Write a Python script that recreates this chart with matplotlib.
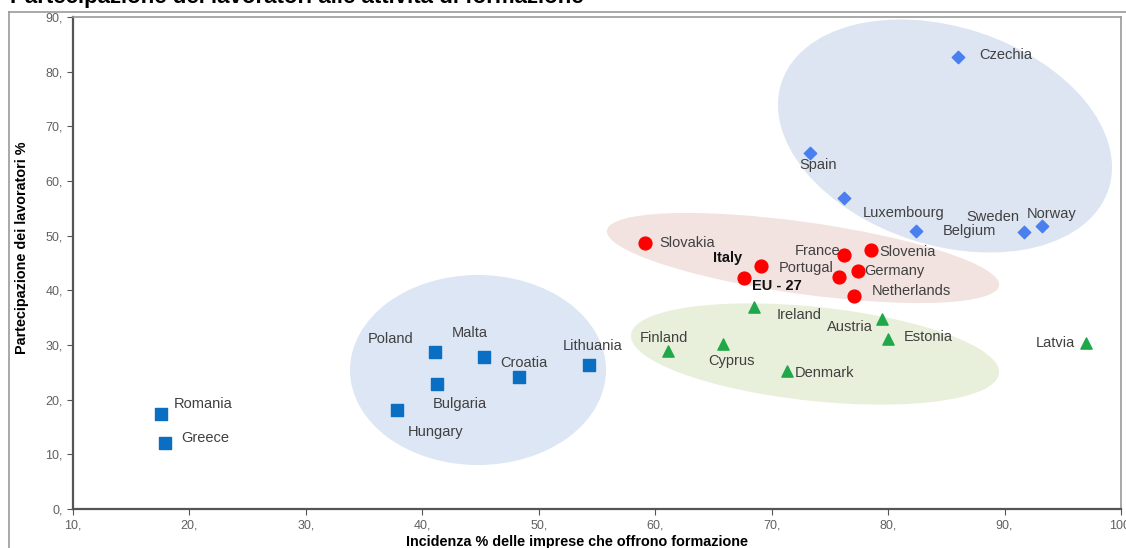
import matplotlib
matplotlib.use("Agg")
import matplotlib.pyplot as plt
from matplotlib.patches import Ellipse
from matplotlib.lines import Line2D
from matplotlib.transforms import Affine2D
from matplotlib.ticker import FuncFormatter

plt.rcParams['font.family'] = ['Liberation Sans', 'DejaVu Sans']

# ---------------------------
# data (x = incidenza imprese, y = partecipazione lavoratori)
# ---------------------------
sq_names = ["Romania", "Greece", "Poland", "Malta", "Bulgaria", "Hungary", "Croatia", "Lithuania"]
sq_x = [17.6, 17.9, 41.1, 45.3, 41.3, 37.8, 48.3, 54.3]
sq_y = [17.4, 12.1, 28.7, 27.8, 22.9, 18.1, 24.1, 26.3]

dia_names = ["Czechia", "Spain", "Luxembourg", "Belgium", "Sweden", "Norway"]
dia_x = [86.0, 73.3, 76.2, 82.4, 91.7, 93.2]
dia_y = [82.7, 65.1, 56.9, 50.9, 50.7, 51.8]

dot_names = ["Slovakia", "Italy", "EU - 27", "France", "Slovenia", "Portugal", "Germany", "Netherlands"]
dot_x = [59.1, 69.1, 67.6, 76.2, 78.5, 75.8, 77.4, 77.1]
dot_y = [48.7, 44.5, 42.3, 46.5, 47.4, 42.4, 43.5, 39.0]

tri_names = ["Ireland", "Austria", "Estonia", "Finland", "Cyprus", "Denmark", "Latvia"]
tri_x = [68.5, 79.5, 80.0, 61.1, 65.8, 71.3, 97.0]
tri_y = [36.9, 34.8, 31.1, 28.9, 30.2, 25.2, 30.4]

# label offsets in pixels (centre of text relative to marker)
label_offsets = {
    "Romania": (42, 10), "Greece": (40, 5), "Poland": (-45, 13), "Malta": (-14, 24),
    "Bulgaria": (22, -20), "Hungary": (39, -22), "Croatia": (5, 14), "Lithuania": (4, 19),
    "Czechia": (48, 2), "Spain": (8, -12), "Luxembourg": (60, -15), "Belgium": (53, 0),
    "Sweden": (-32, 15), "Norway": (10, 12),
    "Slovakia": (42, 0), "Italy": (-34, 8), "EU - 27": (33, -8), "France": (-26, 4),
    "Slovenia": (37, -2), "Portugal": (-33, 9), "Germany": (37, 0), "Netherlands": (57, 5),
    "Ireland": (45, -8), "Austria": (-32, -8), "Estonia": (40, 2), "Finland": (-4, 13),
    "Cyprus": (9, -17), "Denmark": (38, -2), "Latvia": (-31, 0),
}
bold_labels = ["Italy", "EU - 27"]

fig = plt.figure(figsize=(11.26, 5.48), dpi=100)
ax = fig.add_axes([73 / 1126, 39 / 548, 1048 / 1126, 492 / 548])

# ---------------------------
# background groupings (pixel units inside the axes)
# ---------------------------
px = Affine2D().scale(1 / 1048, 1 / 492) + ax.transAxes
groups = [
    ((872, 373), 344, 218, -18, "#DCE5F1"),
    ((730, 251), 396, 72, -8, "#F2E3E1"),
    ((742, 155), 370, 94, -6, "#E8EFDA"),
    ((405, 139), 256, 190, 0, "#DCE6F4"),
]
for c, w, h, ang, col in groups:
    ax.add_patch(Ellipse(c, w, h, angle=ang, transform=px, facecolor=col,
                         edgecolor="none", zorder=1))

ax.scatter(sq_x, sq_y, marker="s", s=75, color="#0A6FC2", zorder=3)
ax.scatter(dia_x, dia_y, marker="D", s=40, color="#4A7FF0", zorder=3)
ax.scatter(dot_x, dot_y, marker="o", s=85, color="#FF0000", zorder=3)
ax.scatter(tri_x, tri_y, marker="^", s=65, color="#1FA84A", zorder=3)

for names, xs, ys in [(sq_names, sq_x, sq_y), (dia_names, dia_x, dia_y),
                      (dot_names, dot_x, dot_y), (tri_names, tri_x, tri_y)]:
    for n, x, y in zip(names, xs, ys):
        bold = n in bold_labels
        ax.annotate(n, (x, y), xytext=label_offsets[n], textcoords="offset pixels",
                    ha="center", va="center", fontsize=10.5,
                    fontweight="bold" if bold else "normal",
                    color="#111111" if bold else "#404040", zorder=4)

ax.set_xlim(10, 100)
ax.set_ylim(0, 90)
ax.set_xticks(range(10, 101, 10))
ax.set_yticks(range(0, 91, 10))
fmt = FuncFormatter(lambda v, p: f"{v:.0f},")
ax.xaxis.set_major_formatter(fmt)
ax.yaxis.set_major_formatter(fmt)
ax.tick_params(labelsize=9, labelcolor="#606060", color="#555555", length=4)

for side in ["left", "bottom"]:
    ax.spines[side].set_color("#555555")
    ax.spines[side].set_linewidth(1.6)
for side in ["top", "right"]:
    ax.spines[side].set_color("#999999")
    ax.spines[side].set_linewidth(1.2)

ax.set_xlabel("Incidenza % delle imprese che offrono formazione", fontsize=10.4,
              fontweight="bold")
ax.set_ylabel("Partecipazione dei lavoratori %", fontsize=10.4, fontweight="bold")
ax.xaxis.set_label_coords((577 - 73) / 1048, -(542 - 509) / 492)
ax.yaxis.set_label_coords(-(73 - 22) / 1048, (509 - 248) / 492)
ax.xaxis.label.set_va("center")
ax.yaxis.label.set_va("center")

# outer chart frame and (cropped) title
fig.add_artist(Line2D([9 / 1126, 9 / 1126], [0, 1 - 12 / 548], color="#999999", lw=1.2))
fig.add_artist(Line2D([9 / 1126, 1], [1 - 12 / 548, 1 - 12 / 548], color="#999999", lw=1.2))
fig.text(10 / 1126, 1 - 3 / 548, "Partecipazione dei lavoratori alle attività di formazione",
         fontsize=16, fontweight="bold", va="baseline", ha="left")

plt.savefig("out.png", dpi=100)
plt.close()
